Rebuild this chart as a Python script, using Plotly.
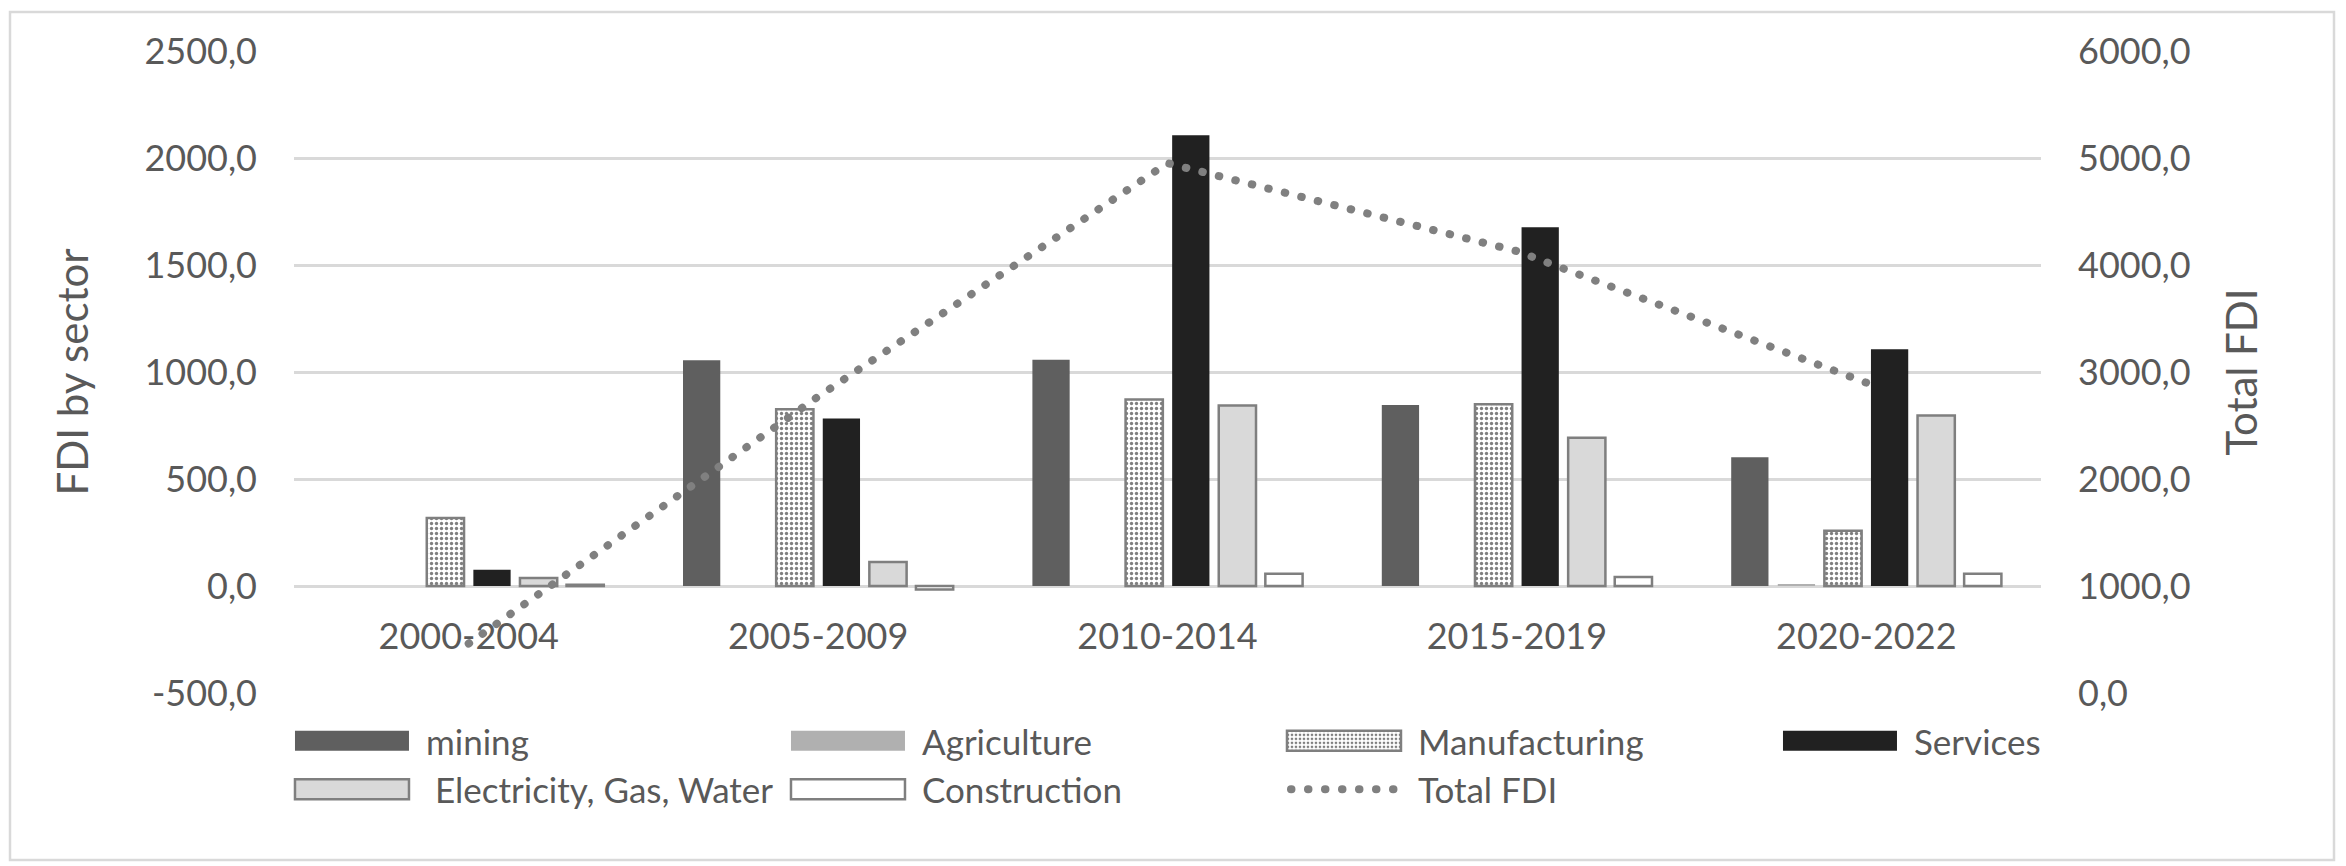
import plotly.graph_objects as go

categories = ["2000-2004", "2005-2009", "2010-2014", "2015-2019", "2020-2022"]
mining = [0, 1055, 1057, 846, 602]
agriculture = [0, 0, 0, 0, 5]
manufacturing = [318, 826, 872, 849, 258]
services = [76, 783, 2106, 1676, 1106]
electricity = [37, 112, 844, 693, 797]
construction = [6, -16, 57, 42, 57]
total_fdi = [462, 2770, 4952, 4130, 2900]

left_tick_vals = [-500, 0, 500, 1000, 1500, 2000, 2500]
left_tick_text = ["-500,0", "0,0", "500,0", "1000,0", "1500,0", "2000,0", "2500,0"]
right_tick_vals = [0, 1000, 2000, 3000, 4000, 5000, 6000]
right_tick_text = ["0,0", "1000,0", "2000,0", "3000,0", "4000,0", "5000,0", "6000,0"]

FONT = "Lato"
TXT = "#595959"
EDGE = "#7f7f7f"

fig = go.Figure()
fig.add_trace(go.Bar(name="mining", x=categories, y=mining,
                     marker=dict(color="#5f5f5f", line=dict(width=0))))
fig.add_trace(go.Bar(name="Agriculture", x=categories, y=agriculture,
                     marker=dict(color="#b0b0b0", line=dict(width=0))))
fig.add_trace(go.Bar(name="Manufacturing", x=categories, y=manufacturing,
                     marker=dict(color="white", line=dict(color=EDGE, width=2.5),
                                 pattern=dict(shape=".", fgcolor="black", bgcolor="white",
                                              size=5, solidity=0.35))))
fig.add_trace(go.Bar(name="Services", x=categories, y=services,
                     marker=dict(color="#212121", line=dict(width=0))))
fig.add_trace(go.Bar(name=" Electricity, Gas, Water", x=categories, y=electricity,
                     marker=dict(color="#d9d9d9", line=dict(color=EDGE, width=2.5))))
fig.add_trace(go.Bar(name="Construction", x=categories, y=construction,
                     marker=dict(color="white", line=dict(color=EDGE, width=2.5))))
fig.add_trace(go.Scatter(name="Total FDI", x=categories, y=total_fdi, yaxis="y2",
                         mode="lines",
                         line=dict(color="#808080", width=8, dash="8px,9px")))

fig.update_layout(
    width=2346, height=866,
    margin=dict(l=294, r=305, t=51, b=173, autoexpand=False),
    paper_bgcolor="white", plot_bgcolor="white",
    font=dict(family=FONT, size=35, color=TXT),
    barmode="group", bargap=0.2, bargroupgap=0.2,
    showlegend=True,
    legend=dict(orientation="h", x=-0.0023, xanchor="left", y=-0.029, yanchor="top",
                entrywidth=355, entrywidthmode="pixels", itemwidth=126,
                font=dict(family=FONT, size=35, color=TXT),
                bgcolor="rgba(0,0,0,0)", traceorder="normal"),
    xaxis=dict(anchor="free", position=1/6, showgrid=False, showline=False,
               zeroline=False, ticks="", ticklabelstandoff=26,
               tickfont=dict(family=FONT, size=36, color=TXT)),
    yaxis=dict(range=[-500, 2500], tickvals=left_tick_vals, ticktext=left_tick_text,
               showgrid=True, gridcolor="#d9d9d9", gridwidth=2.5, zeroline=False,
               showline=False, ticks="", ticklabelstandoff=36,
               tickfont=dict(family=FONT, size=36, color=TXT),
               title=dict(text="FDI by sector", font=dict(family=FONT, size=42, color=TXT),
                          standoff=42)),
    yaxis2=dict(range=[0, 6000], tickvals=right_tick_vals, ticktext=right_tick_text,
                overlaying="y", side="right", showgrid=False, zeroline=False,
                showline=False, ticks="", ticklabelstandoff=36,
                tickfont=dict(family=FONT, size=36, color=TXT),
                title=dict(text="Total FDI", font=dict(family=FONT, size=42, color=TXT),
                           standoff=38)),
    shapes=[dict(type="rect", xref="paper", yref="paper",
                 x0=(10 - 294) / 1747, x1=(2334 - 294) / 1747,
                 y0=(693 - 860) / 642, y1=(693 - 12) / 642,
                 line=dict(color="#d9d9d9", width=2.5), fillcolor="rgba(0,0,0,0)",
                 layer="below")],
)

post_script = """
document.body.style.margin = '0';
var gd = document.getElementById('{plot_id}');
function fixStyle(){
  gd.querySelectorAll('.legend g.legendpoints path').forEach(function(p){
    var d = p.getAttribute('d') || '';
    if (d.indexOf('M6,6H-6V-6H6Z') === 0 || p.classList.contains('legendbar')) {
      p.setAttribute('d', 'M-63,10H51V-10H-63Z');
    }
  });
  gd.querySelectorAll('.legend .legendlines path').forEach(function(p){
    p.setAttribute('d', 'M9,0h106');
    p.style.strokeLinecap = 'round';
    p.style.strokeDasharray = '0.5px,16.5px';
  });
  gd.querySelectorAll('.scatterlayer path.js-line').forEach(function(p){
    p.style.strokeLinecap = 'round';
    p.style.strokeDasharray = '0.5px,16.5px';
  });
}
fixStyle();
gd.on('plotly_afterplot', fixStyle);
"""

fig.write_html("out.html", post_script=post_script, config={"displayModeBar": False})
